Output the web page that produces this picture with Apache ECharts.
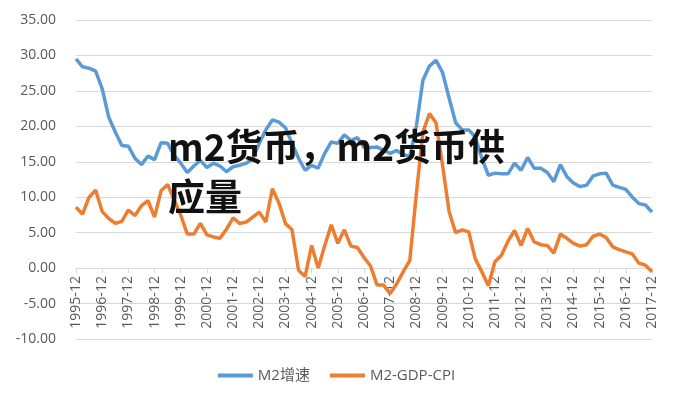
<!DOCTYPE html>
<html>
<head>
<meta charset="utf-8">
<script src="https://cdn.jsdelivr.net/npm/echarts@6/dist/echarts.min.js"></script>
<style>
html,body{margin:0;padding:0;background:#fff;}
#chart{width:673px;height:404px;}
</style>
</head>
<body>
<div id="chart"></div>
<script>
var years = ['1995','1996','1997','1998','1999','2000','2001','2002','2003','2004','2005','2006','2007','2008','2009','2010','2011','2012','2013','2014','2015','2016','2017'];
var quarterMonths = ['03','06','09','12'];
var seriesNames = ['M2增速', 'M2-GDP-CPI'];
var titleText = 'm2货币，m2货币供\n应量';

var m2Growth = [
  29.5, 28.4, 28.2, 27.8, 25.3, 21.3, 19.2, 17.3, 17.2, 15.5,
  14.6, 15.8, 15.3, 17.7, 17.6, 15.9, 14.8, 13.5, 14.4, 15.2,
  14.2, 14.8, 14.4, 13.6, 14.3, 14.5, 14.8, 15.4, 17.6, 19.5,
  20.9, 20.6, 19.8, 17.6, 15.5, 13.8, 14.5, 14.1, 16.2, 17.8,
  17.6, 18.8, 18.0, 18.4, 17.0, 17.0, 17.1, 16.6, 16.2, 16.6,
  16.0, 15.8, 20.0, 26.5, 28.5, 29.3, 27.6, 24.0, 20.5, 19.5,
  19.5, 18.5, 15.5, 13.1, 13.4, 13.3, 13.3, 14.8, 13.8, 15.6,
  14.1, 14.1, 13.5, 12.2, 14.6, 12.9, 12.0, 11.5, 11.7, 13.0,
  13.3, 13.4, 11.7, 11.4, 11.1, 10.0, 9.1, 8.9, 7.9
];
var m2GdpCpi = [
  8.6, 7.6, 10.0, 11.0, 8.0, 7.0, 6.3, 6.6, 8.2, 7.4,
  8.8, 9.5, 7.2, 10.9, 11.8, 9.6, 7.5, 4.8, 4.8, 6.3,
  4.7, 4.4, 4.2, 5.5, 7.1, 6.3, 6.5, 7.2, 7.9, 6.5,
  11.2, 9.2, 6.3, 5.4, -0.3, -1.2, 3.2, 0.0, 3.2, 6.1,
  3.5, 5.4, 3.1, 2.9, 1.5, 0.3, -2.4, -2.4, -3.6, -2.2,
  -0.5, 1.1, 10.5, 19.2, 21.8, 20.5, 14.5, 8.0, 5.0, 5.4,
  5.1, 1.3, -0.5, -2.5, 0.9, 1.8, 3.8, 5.3, 3.2, 5.6,
  3.7, 3.3, 3.2, 2.1, 4.8, 4.2, 3.5, 3.1, 3.3, 4.5,
  4.8, 4.3, 3.0, 2.6, 2.3, 2.0, 0.7, 0.4, -0.5
];

var categories = [];
years.forEach(function (y, yi) {
  quarterMonths.forEach(function (m) {
    if (yi === 0 && m !== '12') return;
    categories.push(y + '-' + m);
  });
});

var chart = echarts.init(document.getElementById('chart'));
var textColor = '#595959';
var fontFam = '"Open Sans", "Noto Sans CJK SC", sans-serif';
var gridTop = 20, gridBottom = 65, yMin = -10, yMax = 35;
var plotH = 404 - gridTop - gridBottom;
var zeroOffset = -plotH * (0 - yMin) / (yMax - yMin);
chart.setOption({
  animation: false,
  backgroundColor: '#ffffff',
  color: ['#5b9bd5', '#ed7d31'],
  grid: { left: 76, right: 21, top: gridTop, bottom: gridBottom, containLabel: false },
  legend: {
    data: seriesNames,
    bottom: 16,
    left: 'center',
    icon: 'rect',
    itemWidth: 35,
    itemHeight: 4,
    itemGap: 20,
    textStyle: { color: textColor, fontSize: 15, fontFamily: fontFam }
  },
  xAxis: {
    type: 'category',
    data: categories,
    boundaryGap: false,
    offset: zeroOffset,
    axisLine: { onZero: false, lineStyle: { color: '#d9d9d9', width: 1 } },
    axisTick: { show: true, interval: 3, length: 5, lineStyle: { color: '#d9d9d9' } },
    axisLabel: { interval: 3, rotate: 90, color: textColor, fontSize: 14, fontFamily: fontFam, margin: 8 },
    splitLine: { show: false }
  },
  yAxis: {
    type: 'value',
    min: yMin,
    max: yMax,
    interval: 5,
    axisLine: { show: false },
    axisTick: { show: false },
    axisLabel: {
      color: textColor, fontSize: 14, fontFamily: fontFam, margin: 20,
      formatter: function (v) { return v.toFixed(2); }
    },
    splitLine: { lineStyle: { color: '#d9d9d9', width: 1 } }
  },
  series: [
    { name: seriesNames[0], type: 'line', data: m2Growth, symbol: 'none', lineStyle: { width: 3.5 } },
    { name: seriesNames[1], type: 'line', data: m2GdpCpi, symbol: 'none', lineStyle: { width: 3.5 } }
  ],
  graphic: [{
    type: 'text',
    left: 168,
    top: 122,
    z: 100,
    style: {
      text: titleText,
      fill: '#111111',
      font: 'bold 37px "Noto Sans CJK SC", sans-serif',
      lineHeight: 50
    }
  }]
});
</script>
</body>
</html>
